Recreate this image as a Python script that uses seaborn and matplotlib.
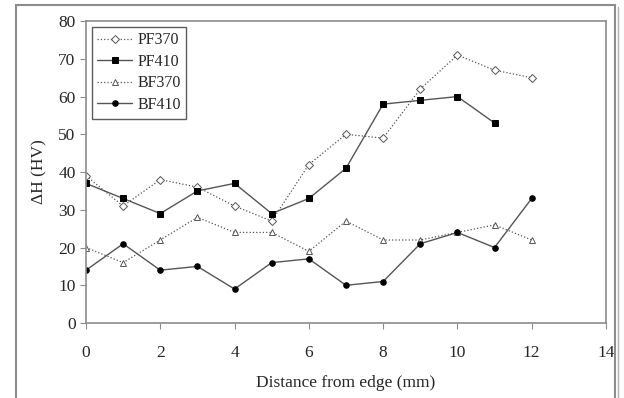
import matplotlib
matplotlib.use("Agg")
import matplotlib.pyplot as plt
import matplotlib.patches as mpatches
import pandas as pd
import seaborn as sns

# distance from edge (mm)
dist = [0, 1, 2, 3, 4, 5, 6, 7, 8, 9, 10, 11, 12]
pf370 = [39, 31, 38, 36, 31, 27, 42, 50, 49, 62, 71, 67, 65]
pf410 = [37, 33, 29, 35, 37, 29, 33, 41, 58, 59, 60, 53]
bf370 = [20, 16, 22, 28, 24, 24, 19, 27, 22, 22, 24, 26, 22]
bf410 = [14, 21, 14, 15, 9, 16, 17, 10, 11, 21, 24, 20, 33]

sns.set_style("white")
plt.rcParams["font.family"] = ["Liberation Serif", "DejaVu Serif"]

fig = plt.figure(figsize=(6.24, 3.98), dpi=100)
ax = fig.add_axes([0.1378, 0.1884, 0.8333, 0.7586])

# outer frame (with a faint shadow line on the right)
fig.patches.append(mpatches.Rectangle((16 / 624, -0.02), 599 / 624, 1 - 5 / 398 + 0.02,
                                      transform=fig.transFigure, fill=False,
                                      edgecolor="#8c8c8c", lw=1.5))
fig.add_artist(plt.Line2D([618 / 624, 618 / 624], [0, 1 - 7 / 398], transform=fig.transFigure,
                          color="#b0b0b0", lw=1.0))

series = [
    ("PF370", pf370, ":", "D", "white", 4, 0.9),
    ("PF410", pf410, "-", "s", "black", 5, 1.0),
    ("BF370", bf370, ":", "^", "white", 5, 0.9),
    ("BF410", bf410, "-", "o", "black", 4, 1.0),
]
for name, vals, ls, mk, mfc, ms, lw in series:
    df = pd.DataFrame({"x": dist[:len(vals)], "y": vals})
    sns.lineplot(data=df, x="x", y="y", ax=ax, color="#555555", linestyle=ls, lw=lw,
                 marker=mk, markersize=ms, markerfacecolor=mfc,
                 markeredgecolor="black" if mfc == "black" else "#555555",
                 markeredgewidth=0.7, label=name)

ax.set_xlim(0, 14)
ax.set_ylim(0, 80)
ax.set_xticks(range(0, 15, 2))
ax.set_yticks(range(0, 81, 10))
ax.set_xlabel("Distance from edge (mm)", fontsize=12.5, labelpad=10)
ax.set_ylabel("ΔH (HV)", fontsize=12.5, labelpad=8)
ax.tick_params(axis="both", labelsize=12.5, direction="out", length=4, color="#8c8c8c",
               bottom=True, left=True)
ax.tick_params(axis="x", pad=12)
for sp in ax.spines.values():
    sp.set_color("#8c8c8c")
    sp.set_linewidth(1.2)

leg = ax.legend(loc="upper left", frameon=True, fancybox=False, fontsize=11.5,
                handlelength=2.2, borderpad=0.35, labelspacing=0.35, handletextpad=0.3,
                borderaxespad=0.35)
leg.get_frame().set_edgecolor("#333333")
leg.get_frame().set_linewidth(1.0)

fig.savefig("out.png", dpi=100)
